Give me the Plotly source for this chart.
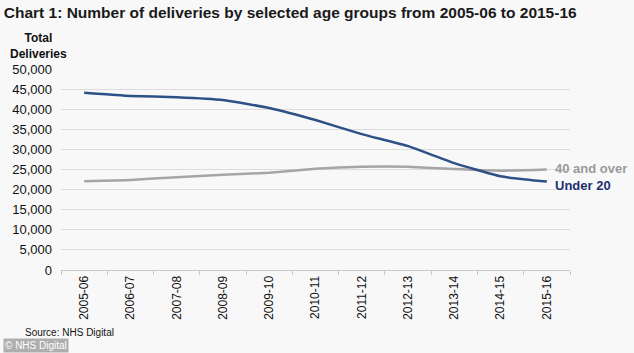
import plotly.graph_objects as go

years = ["2005-06", "2006-07", "2007-08", "2008-09", "2009-10", "2010-11",
         "2011-12", "2012-13", "2013-14", "2014-15", "2015-16"]
under_20 = [44100, 43300, 43000, 42300, 40300, 37300, 33800, 30800, 26600, 23300, 22000]
forty_over = [22100, 22400, 23100, 23700, 24200, 25200, 25700, 25700, 25100, 24700, 25000]
y_ticks = list(range(0, 50001, 5000))

fig = go.Figure()
fig.add_trace(go.Scatter(x=years, y=forty_over, mode="lines", name="40 and over",
                         line=dict(color="#a5a5a5", width=2.5, shape="spline", smoothing=0.4)))
fig.add_trace(go.Scatter(x=years, y=under_20, mode="lines", name="Under 20",
                         line=dict(color="#2d5186", width=2.5, shape="spline", smoothing=0.4)))

fig.add_annotation(x=years[-1], y=forty_over[-1], text="<b>40 and over</b>", showarrow=False,
                   xanchor="left", xshift=6, yshift=1, font=dict(color="#9a9a9a", size=13, family="Arial"))
fig.add_annotation(x=years[-1], y=under_20[-1], text="<b>Under 20</b>", showarrow=False,
                   xanchor="left", xshift=6, yshift=-4, font=dict(color="#1c2f72", size=13, family="Arial"))

fig.add_annotation(xref="paper", yref="paper", x=-0.045, y=1.0, yshift=6, yanchor="bottom",
                   text="<b>Total<br>Deliveries</b>", showarrow=False, align="center",
                   xanchor="center", font=dict(size=12, color="#111111", family="Arial"))
fig.add_annotation(xref="paper", yref="paper", x=-0.075, y=-0.31, xanchor="left", yanchor="middle",
                   text="Source: NHS Digital", showarrow=False,
                   font=dict(size=10, color="#111111", family="Arial"))
fig.add_annotation(xref="paper", yref="paper", x=-0.113, y=-0.415, xanchor="left", yanchor="bottom",
                   text="© NHS Digital", showarrow=False, bgcolor="rgba(150,150,150,0.75)",
                   borderpad=1, font=dict(size=10, color="#ffffff", family="Arial"))

fig.update_layout(
    width=634, height=353,
    margin=dict(l=58, r=64, t=69, b=83),
    paper_bgcolor="#f8f8f8", plot_bgcolor="#f8f8f8",
    showlegend=False,
    title=dict(text="<b>Chart 1: Number of deliveries by selected age groups from 2005-06 to 2015-16</b>",
               x=0.006, xanchor="left", y=0.963, yanchor="middle",
               font=dict(size=15.5, color="#1a1a1a", family="Arial")),
    font=dict(family="Arial", color="#111111"),
)
fig.update_xaxes(type="category", range=[-0.5, 10.5], tickangle=-90, showgrid=False,
                 showline=True, linecolor="#c8c8c8", linewidth=1,
                 ticks="outside", tickson="boundaries", ticklen=4, tickcolor="#c8c8c8",
                 tickfont=dict(size=12, color="#111111", family="Arial"))
fig.update_yaxes(range=[0, 50000], tickvals=y_ticks, tickformat=",", showgrid=True,
                 gridcolor="#dcdcdc", gridwidth=1, zeroline=False, showline=False,
                 tickfont=dict(size=13, color="#111111", family="Arial"), ticklabelstandoff=8)

fig.write_html("out.html")
